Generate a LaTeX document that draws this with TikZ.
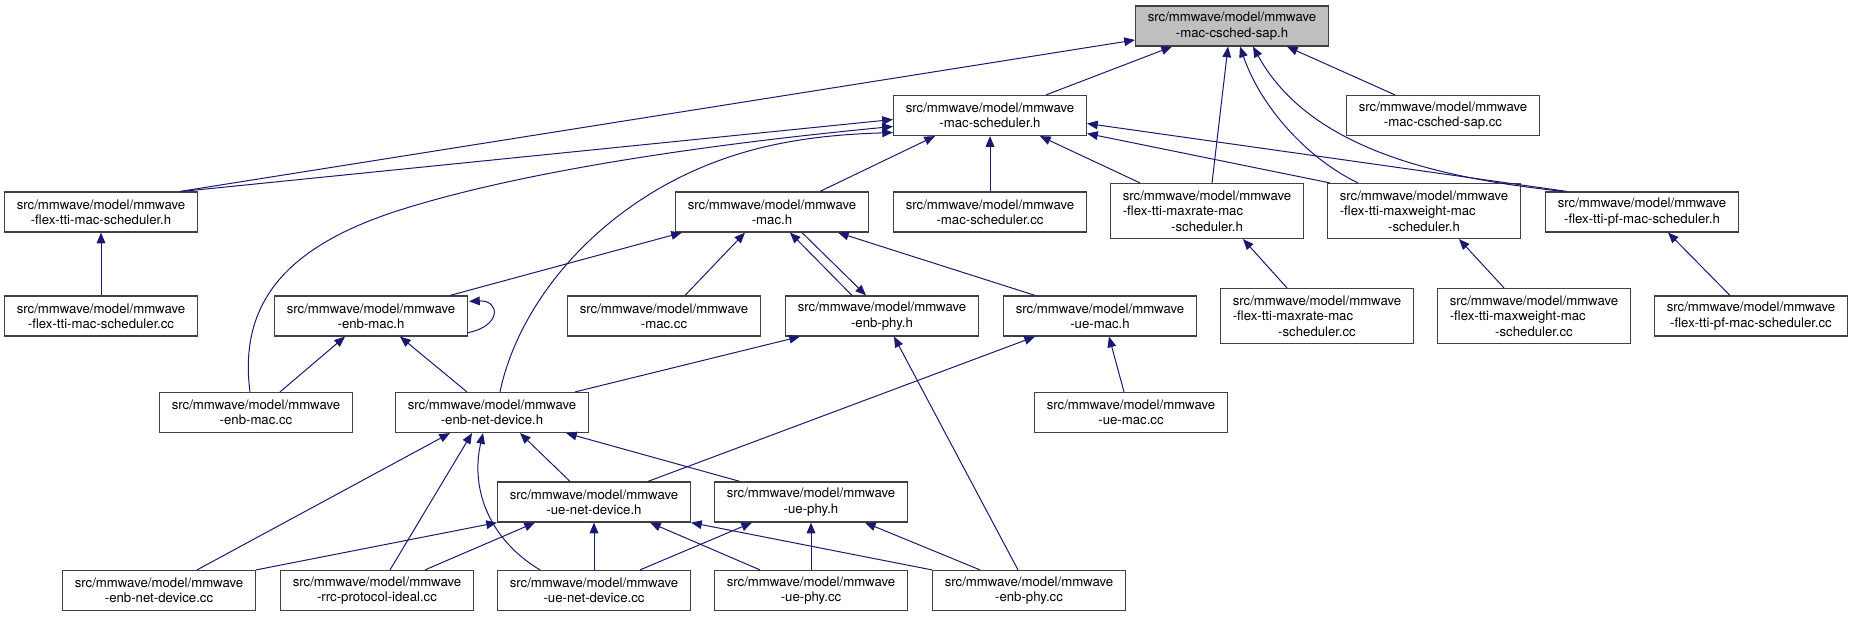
\documentclass[tikz,border=0pt]{standalone}
\usepackage{fontspec}
\setmainfont{TeX Gyre Heros}
\usetikzlibrary{arrows.meta,calc}
\definecolor{midnightblue}{RGB}{25,25,112}
\newcommand{\lftrow}[1]{\rlap{#1}\hphantom{src/mmwave/model/mmwave}}

\begin{document}
\begin{tikzpicture}[x=0.75pt, y=-0.75pt,
  file/.style={draw=black!75, line width=0.9pt, fill=white, minimum width=144.75pt, minimum height=30pt, inner sep=0pt, align=center, font=\fontsize{9.9}{11.5}\selectfont},
  tall/.style={minimum height=41.25pt},
  arr/.style={-{Triangle[length=8pt, width=6.5pt]}, midnightblue, line width=0.75pt}]
\useasboundingbox (0,0) rectangle (1853,617);
% the header itself and what includes it
\node[file, fill=black!25] (sapH) at (1232,26) {src/mmwave/model/mmwave\\-mac-csched-sap.h};
\node[file] (schedH) at (990,115.5) {src/mmwave/model/mmwave\\-mac-scheduler.h};
\node[file] (sapCC) at (1443,115.5) {src/mmwave/model/mmwave\\-mac-csched-sap.cc};
\node[file] (flexH) at (101,212) {src/mmwave/model/mmwave\\-flex-tti-mac-scheduler.h};
\node[file] (macH) at (772,212) {src/mmwave/model/mmwave\\-mac.h};
\node[file] (schedCC) at (990,212) {src/mmwave/model/mmwave\\-mac-scheduler.cc};
\node[file, tall] (maxrateH) at (1207,211) {src/mmwave/model/mmwave\\\lftrow{-flex-tti-maxrate-mac}\\-scheduler.h};
\node[file, tall] (maxweightH) at (1424,211) {src/mmwave/model/mmwave\\\lftrow{-flex-tti-maxweight-mac}\\-scheduler.h};
\node[file] (pfH) at (1642,212) {src/mmwave/model/mmwave\\-flex-tti-pf-mac-scheduler.h};
\node[file] (flexCC) at (101,316) {src/mmwave/model/mmwave\\-flex-tti-mac-scheduler.cc};
\node[file] (enbmacH) at (371,316) {src/mmwave/model/mmwave\\-enb-mac.h};
\node[file] (macCC) at (664,316) {src/mmwave/model/mmwave\\-mac.cc};
\node[file] (enbphyH) at (882,316) {src/mmwave/model/mmwave\\-enb-phy.h};
\node[file] (uemacH) at (1100,316) {src/mmwave/model/mmwave\\-ue-mac.h};
\node[file, tall] (maxrateCC) at (1317,316) {src/mmwave/model/mmwave\\\lftrow{-flex-tti-maxrate-mac}\\-scheduler.cc};
\node[file, tall] (maxweightCC) at (1534,316) {src/mmwave/model/mmwave\\\lftrow{-flex-tti-maxweight-mac}\\-scheduler.cc};
\node[file] (pfCC) at (1751,316) {src/mmwave/model/mmwave\\-flex-tti-pf-mac-scheduler.cc};
\node[file] (enbmacCC) at (256,412.5) {src/mmwave/model/mmwave\\-enb-mac.cc};
\node[file] (enbnetH) at (492,412.5) {src/mmwave/model/mmwave\\-enb-net-device.h};
\node[file] (uemacCC) at (1131,412.5) {src/mmwave/model/mmwave\\-ue-mac.cc};
\node[file] (uenetH) at (594,502) {src/mmwave/model/mmwave\\-ue-net-device.h};
\node[file] (uephyH) at (811,502) {src/mmwave/model/mmwave\\-ue-phy.h};
\node[file] (enbnetCC) at (159,590.5) {src/mmwave/model/mmwave\\-enb-net-device.cc};
\node[file] (rrcCC) at (377,590.5) {src/mmwave/model/mmwave\\-rrc-protocol-ideal.cc};
\node[file] (uenetCC) at (594,590.5) {src/mmwave/model/mmwave\\-ue-net-device.cc};
\node[file] (uephyCC) at (811,590.5) {src/mmwave/model/mmwave\\-ue-phy.cc};
\node[file] (enbphyCC) at (1029,590.5) {src/mmwave/model/mmwave\\-enb-phy.cc};
% includes of mac-csched-sap.h
\draw[arr] ($(flexH.north east)+(-18,0)$) -- ($(sapH.west)+(0,14)$);
\draw[arr] ($(schedH.north)+(56,0)$) -- ($(sapH.south)+(-60,0)$);
\draw[arr] ($(maxrateH.north)+(5,0)$) -- ($(sapH.south)+(-4,0)$);
\draw[arr] ($(maxweightH.north)+(-66,0)$) .. controls (1310,160) and (1262,110) .. ($(sapH.south)+(8,0)$);
\draw[arr] ($(pfH.north)+(-79,0)$) .. controls (1440,178) and (1310,150) .. ($(sapH.south)+(21,0)$);
\draw[arr] ($(sapCC.north)+(-48,0)$) -- ($(sapH.south)+(55,0)$);
% includes of mac-scheduler.h
\draw[arr] ($(flexH.north east)+(-16,0)$) -- ($(schedH.west)+(0,4)$);
\draw[arr] ($(enbmacCC.north)+(-6,0)$) .. controls (238,300) and (290,245) .. (400,210) .. controls (520,172) and (700,145) .. ($(schedH.west)+(0,11)$);
\draw[arr] ($(enbnetH.north)+(8,0)$) .. controls (515,320) and (570,240) .. (660,188) .. controls (740,142) and (820,135) .. ($(schedH.west)+(0,17)$);
\draw[arr] ($(macH.north)+(48,0)$) -- ($(schedH.south)+(-55,0)$);
\draw[arr] (schedCC) -- (schedH);
\draw[arr] ($(maxrateH.north)+(-67,0)$) -- ($(schedH.south)+(50,0)$);
\draw[arr] ($(maxweightH.north west)+(3,0)$) -- ($(schedH.east)+(0,18)$);
\draw[arr] ($(pfH.north west)+(22,0)$) -- ($(schedH.east)+(0,8)$);
% mac.h and enb-mac.h
\draw[arr] ($(enbmacH.north east)+(-18,0)$) -- ($(macH.south west)+(7,0)$);
\draw[arr] ($(macCC.north)+(21,0)$) -- ($(macH.south)+(-27,0)$);
\draw[arr] ($(enbphyH.north)+(-30,0)$) -- ($(macH.south)+(18,0)$);
\draw[arr] ($(macH.south)+(30,0)$) -- ($(enbphyH.north)+(-16,0)$);
\draw[arr] ($(uemacH.north)+(-65,0)$) -- ($(macH.south)+(66,0)$);
\draw[arr] ($(enbmacH.south east)+(0,-4)$) .. controls (502,326) and (500,300) .. ($(enbmacH.north east)+(1,6)$);
\draw[arr] ($(enbmacCC.north)+(24,0)$) -- ($(enbmacH.south)+(-26,0)$);
\draw[arr] ($(enbnetH.north)+(-25,0)$) -- ($(enbmacH.south)+(29,0)$);
\draw[arr] ($(enbnetH.north east)+(-14,0)$) -- ($(enbphyH.south west)+(15,0)$);
\draw[arr] ($(enbphyCC.north)+(-11,0)$) -- ($(enbphyH.south)+(12,0)$);
\draw[arr] ($(uenetH.north)+(54,0)$) -- ($(uemacH.south)+(-65,0)$);
\draw[arr] ($(uemacCC.north)+(-7,0)$) -- ($(uemacH.south)+(9,0)$);
% scheduler sources
\draw[arr] (flexCC) -- (flexH);
\draw[arr] ($(maxrateCC.north)+(-30,0)$) -- ($(maxrateH.south)+(36,0)$);
\draw[arr] ($(maxweightCC.north)+(-30,0)$) -- ($(maxweightH.south)+(35,0)$);
\draw[arr] ($(pfCC.north)+(-21,0)$) -- ($(pfH.south)+(26,0)$);
% net devices and phys
\draw[arr] ($(enbnetCC.north)+(38,0)$) -- ($(enbnetH.south)+(-42,0)$);
\draw[arr] ($(rrcCC.north)+(13,0)$) -- ($(enbnetH.south)+(-20,0)$);
\draw[arr] ($(uenetCC.north)+(-54,0)$) .. controls (490,540) and (470,490) .. ($(enbnetH.south)+(-9,0)$);
\draw[arr] ($(uenetH.north)+(-24,0)$) -- ($(enbnetH.south)+(28,0)$);
\draw[arr] ($(uephyH.north west)+(26,0)$) -- ($(enbnetH.south east)+(-23,0)$);
\draw[arr] (enbnetCC.north east) -- (uenetH.south west);
\draw[arr] ($(rrcCC.north)+(48,0)$) -- ($(uenetH.south)+(-59,0)$);
\draw[arr] (uenetCC) -- (uenetH);
\draw[arr] ($(uephyCC.north)+(-51,0)$) -- ($(uenetH.south)+(56,0)$);
\draw[arr] (enbphyCC.north west) -- (uenetH.south east);
\draw[arr] ($(uenetCC.north)+(46,0)$) -- ($(uephyH.south)+(-59,0)$);
\draw[arr] (uephyCC) -- (uephyH);
\draw[arr] ($(enbphyCC.north)+(-49,0)$) -- ($(uephyH.south)+(54,0)$);
\end{tikzpicture}
\end{document}
